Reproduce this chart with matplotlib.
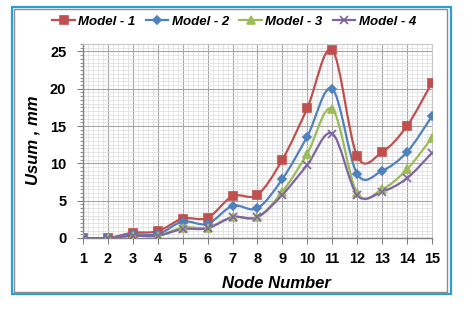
import matplotlib

matplotlib.use("Agg")
import matplotlib.pyplot as plt
from matplotlib.font_manager import FontProperties
from matplotlib.patches import PathPatch, Rectangle
from matplotlib.path import Path
from matplotlib.ticker import MultipleLocator

nodes = list(range(1, 16))
model_1 = [0, 0, 0.7, 0.9, 2.6, 2.7, 5.6, 5.8, 10.5, 17.4, 25.2, 11.0, 11.5, 15.0, 20.8]
model_2 = [0, 0, 0.5, 0.5, 2.2, 1.9, 4.3, 4.0, 7.9, 13.6, 20.0, 8.6, 9.0, 11.5, 16.3]
model_3 = [0, 0, 0.3, 0.3, 1.4, 1.4, 2.8, 2.8, 6.2, 11.3, 17.3, 6.0, 6.5, 9.2, 13.4]
model_4 = [0, 0, 0.3, 0.3, 1.2, 1.3, 2.8, 2.8, 5.8, 9.8, 14.0, 5.8, 6.2, 8.0, 11.4]

series = [
    ("Model - 1", model_1, "#c0504d", "s", 6),
    ("Model - 2", model_2, "#4f81bd", "D", 4.2),
    ("Model - 3", model_3, "#9bbb59", "^", 6),
    ("Model - 4", model_4, "#8064a2", "x", 6),
]

FAMILY = ["Liberation Sans", "DejaVu Sans"]
LABEL_FONT = dict(family=FAMILY, weight="bold", style="italic")
TICK_FONT = dict(family=FAMILY, weight="bold")


def _smooth_path(xs, ys):
    """Excel-style smoothed line: Catmull-Rom segments as cubic Beziers."""
    pts = list(zip(xs, ys))
    verts = [pts[0]]
    codes = [Path.MOVETO]
    for i in range(len(pts) - 1):
        p0 = pts[max(i - 1, 0)]
        p1 = pts[i]
        p2 = pts[i + 1]
        p3 = pts[min(i + 2, len(pts) - 1)]
        c1 = (p1[0] + (p2[0] - p0[0]) / 6, p1[1] + (p2[1] - p0[1]) / 6)
        c2 = (p2[0] - (p3[0] - p1[0]) / 6, p2[1] - (p3[1] - p1[1]) / 6)
        verts += [c1, c2, p2]
        codes += [Path.CURVE4] * 3
    return Path(verts, codes)


fig = plt.figure(figsize=(4.73, 3.09), dpi=100)
ax = fig.add_axes([0.1755, 0.2298, 0.7375, 0.6278])

# chart frame: blue outline with grey inner edge
fig.patches.append(Rectangle((12 / 473, 1 - 294 / 309), 439 / 473, 287 / 309,
                             transform=fig.transFigure, fill=False,
                             edgecolor="#2a9fd6", linewidth=1.6))
fig.patches.append(Rectangle((14 / 473, 1 - 292 / 309), 433 / 473, 283 / 309,
                             transform=fig.transFigure, fill=False,
                             edgecolor="#8c8c8c", linewidth=1.0))

for label, values, color, marker, size in series:
    ax.add_patch(PathPatch(_smooth_path(nodes, values), facecolor="none",
                           edgecolor=color, linewidth=1.6, zorder=3))
    ax.plot(nodes, values, linestyle="none", marker=marker, markersize=size,
            color=color, markeredgecolor=color, markeredgewidth=1.2, zorder=4)
    ax.plot([], [], color=color, marker=marker, markersize=size, linewidth=1.6,
            markeredgewidth=1.2, label=label)

ax.set_xlim(1, 15)
ax.set_ylim(0, 26)
ax.xaxis.set_major_locator(MultipleLocator(1))
ax.xaxis.set_minor_locator(MultipleLocator(0.2))
ax.yaxis.set_major_locator(MultipleLocator(5))
ax.yaxis.set_minor_locator(MultipleLocator(0.5))
ax.grid(which="major", color="#a6a6a6", linewidth=0.8, zorder=0)
ax.grid(which="minor", color="#dcdcdc", linewidth=0.5, zorder=0)
ax.set_axisbelow(True)

ax.tick_params(axis="x", which="minor", length=0)
ax.tick_params(axis="y", which="minor", length=2.5, color="#808080")
ax.tick_params(axis="both", which="major", length=4, color="#808080")
ax.tick_params(axis="x", which="major", pad=6)
ax.tick_params(axis="y", which="major", pad=8)
for lbl in ax.get_xticklabels() + ax.get_yticklabels():
    lbl.set_fontproperties(FontProperties(**TICK_FONT, size=10.5))

for side in ("top", "right"):
    ax.spines[side].set_color("#c8c8c8")
for side in ("left", "bottom"):
    ax.spines[side].set_color("#808080")
    ax.spines[side].set_linewidth(1.0)

fig.text(0.584, 0.084, "Node Number", ha="center", va="center", size=12, **LABEL_FONT)
fig.text(0.07, 0.547, "Usum , mm", ha="center", va="center", rotation=90, size=12, **LABEL_FONT)

fig.legend(loc="center", bbox_to_anchor=(0.495, 0.929), ncol=4, frameon=False,
           handlelength=1.7, handletextpad=0.25, columnspacing=0.8,
           prop=FontProperties(**LABEL_FONT, size=9.5))

fig.savefig("out.png", dpi=100)
